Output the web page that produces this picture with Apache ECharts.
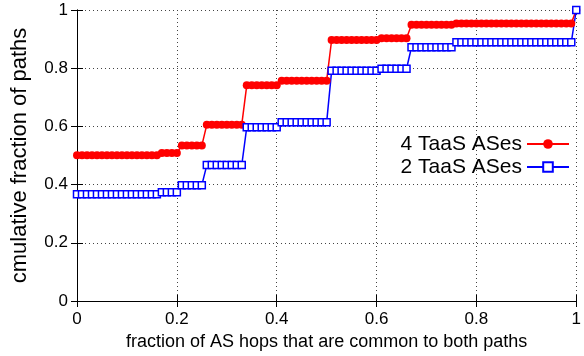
<!DOCTYPE html>
<html>
<head>
<meta charset="utf-8">
<script src="https://cdn.jsdelivr.net/npm/echarts@6/dist/echarts.min.js"></script>
<style>
  html, body { margin: 0; padding: 0; background: #fff; }
  #chart { width: 584px; height: 356px; }
</style>
</head>
<body>
<div id="chart"></div>
<script>
// sample points on the x axis (fraction of common AS hops)
const xs = [
  0, 0.01, 0.02, 0.03, 0.04, 0.05, 0.06, 0.07, 0.08, 0.09,
  0.1, 0.11, 0.12, 0.13, 0.14, 0.15, 0.16, 0.17, 0.18, 0.19,
  0.2, 0.21, 0.22, 0.23, 0.24, 0.25, 0.26, 0.27, 0.28, 0.29,
  0.3, 0.31, 0.32, 0.33, 0.34, 0.35, 0.36, 0.37, 0.38, 0.39,
  0.4, 0.41, 0.42, 0.43, 0.44, 0.45, 0.46, 0.47, 0.48, 0.49,
  0.5, 0.51, 0.52, 0.53, 0.54, 0.55, 0.56, 0.57, 0.58, 0.59,
  0.6, 0.61, 0.62, 0.63, 0.64, 0.65, 0.66, 0.67, 0.68, 0.69,
  0.7, 0.71, 0.72, 0.73, 0.74, 0.75, 0.76, 0.77, 0.78, 0.79,
  0.8, 0.81, 0.82, 0.83, 0.84, 0.85, 0.86, 0.87, 0.88, 0.89,
  0.9, 0.91, 0.92, 0.93, 0.94, 0.95, 0.96, 0.97, 0.98, 0.99,
  1
]

// 4 TaaS ASes
const taas4 = [
  0.501, 0.501, 0.501, 0.501, 0.501, 0.501, 0.501, 0.501, 0.501, 0.501,
  0.501, 0.501, 0.501, 0.501, 0.501, 0.501, 0.501, 0.509, 0.509, 0.509,
  0.509, 0.534, 0.534, 0.534, 0.534, 0.534, 0.606, 0.606, 0.606, 0.606,
  0.606, 0.606, 0.606, 0.606, 0.741, 0.741, 0.741, 0.741, 0.741, 0.741,
  0.741, 0.757, 0.757, 0.757, 0.757, 0.757, 0.757, 0.757, 0.757, 0.757,
  0.757, 0.897, 0.897, 0.897, 0.897, 0.897, 0.897, 0.897, 0.897, 0.897,
  0.897, 0.903, 0.903, 0.903, 0.903, 0.903, 0.903, 0.949, 0.949, 0.949,
  0.949, 0.949, 0.949, 0.949, 0.949, 0.949, 0.954, 0.954, 0.954, 0.954,
  0.954, 0.954, 0.954, 0.954, 0.954, 0.954, 0.954, 0.954, 0.954, 0.954,
  0.954, 0.954, 0.954, 0.954, 0.954, 0.954, 0.954, 0.954, 0.954, 0.954,
  1
]

// 2 TaaS ASes
const taas2 = [
  0.367, 0.367, 0.367, 0.367, 0.367, 0.367, 0.367, 0.367, 0.367, 0.367,
  0.367, 0.367, 0.367, 0.367, 0.367, 0.367, 0.367, 0.374, 0.374, 0.374,
  0.374, 0.398, 0.398, 0.398, 0.398, 0.398, 0.467, 0.467, 0.467, 0.467,
  0.467, 0.467, 0.467, 0.467, 0.597, 0.597, 0.597, 0.597, 0.597, 0.597,
  0.597, 0.614, 0.614, 0.614, 0.614, 0.614, 0.614, 0.614, 0.614, 0.614,
  0.614, 0.791, 0.791, 0.791, 0.791, 0.791, 0.791, 0.791, 0.791, 0.791,
  0.791, 0.798, 0.798, 0.798, 0.798, 0.798, 0.798, 0.872, 0.872, 0.872,
  0.872, 0.872, 0.872, 0.872, 0.872, 0.872, 0.889, 0.889, 0.889, 0.889,
  0.889, 0.889, 0.889, 0.889, 0.889, 0.889, 0.889, 0.889, 0.889, 0.889,
  0.889, 0.889, 0.889, 0.889, 0.889, 0.889, 0.889, 0.889, 0.889, 0.889,
  1
]

const seriesNames = ['4 TaaS ASes', '2 TaaS ASes']

const font = 'Liberation Sans, Arial, sans-serif'

const chart = echarts.init(document.getElementById('chart'), null, { renderer: 'canvas' })

const gridLine = { show: true, lineStyle: { color: '#444', type: [1, 3], width: 1 } }
const tick = { show: true, inside: true, length: 6, lineStyle: { color: '#000' } }
const axisLine = { show: true, lineStyle: { color: '#000', width: 1 } }

chart.setOption({
  animation: false,
  backgroundColor: '#fff',
  grid: { left: 77, right: 2, top: 10, bottom: 54, containLabel: false },
  legend: {
    data: seriesNames,
    orient: 'vertical',
    right: 9,
    top: 128,
    align: 'right',
    itemWidth: 42,
    itemHeight: 12,
    itemGap: 1,
    textStyle: { fontFamily: font, fontSize: 21, color: '#000', lineHeight: 22 }
  },
  xAxis: [
    {
      type: 'value', min: 0, max: 1, interval: 0.2,
      name: 'fraction of AS hops that are common to both paths',
      nameLocation: 'middle', nameGap: 32,
      nameTextStyle: { fontFamily: font, fontSize: 18, color: '#000' },
      axisLine, axisTick: tick, splitLine: gridLine,
      axisLabel: { fontFamily: font, fontSize: 17, color: '#000', margin: 10 }
    },
    {
      type: 'value', min: 0, max: 1, interval: 0.2, position: 'top',
      axisLine, axisTick: tick, splitLine: { show: false }, axisLabel: { show: false }
    }
  ],
  yAxis: [
    {
      type: 'value', min: 0, max: 1, interval: 0.2,
      name: 'cmulative fraction of paths',
      nameLocation: 'middle', nameGap: 46,
      nameTextStyle: { fontFamily: font, fontSize: 22, color: '#000' },
      axisLine, axisTick: tick, splitLine: gridLine,
      axisLabel: { fontFamily: font, fontSize: 17, color: '#000', margin: 9 }
    },
    {
      type: 'value', min: 0, max: 1, interval: 0.2, position: 'right',
      axisLine, axisTick: tick, splitLine: { show: false }, axisLabel: { show: false }
    }
  ],
  series: [
    {
      name: seriesNames[0],
      type: 'line',
      data: xs.map((x, i) => [x, taas4[i]]),
      symbol: 'circle',
      symbolSize: 8,
      showAllSymbol: true,
      clip: false,
      lineStyle: { color: '#ff0000', width: 1.5 },
      itemStyle: { color: '#ff0000' }
    },
    {
      name: seriesNames[1],
      type: 'line',
      data: xs.map((x, i) => [x, taas2[i]]),
      symbol: 'rect',
      symbolSize: 7,
      showAllSymbol: true,
      clip: false,
      lineStyle: { color: '#0000ff', width: 1.5 },
      itemStyle: { color: '#fff', borderColor: '#0000ff', borderWidth: 1.5 }
    }
  ]
})
</script>
</body>
</html>
